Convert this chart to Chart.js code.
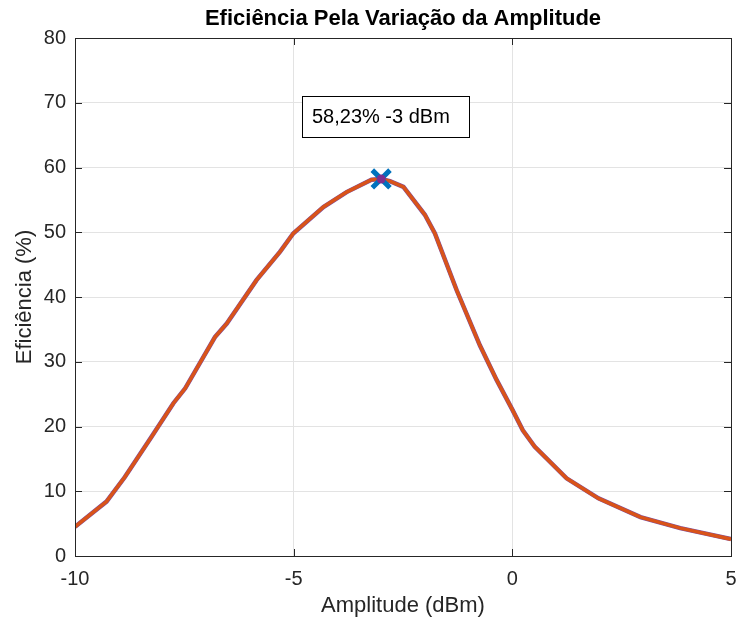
<!DOCTYPE html>
<html>
<head>
<meta charset="utf-8">
<script src="https://cdn.jsdelivr.net/npm/chart.js@4.4.0/dist/chart.umd.min.js"></script>
<style>
  html, body { margin: 0; padding: 0; background: #fff; }
  #wrap { width: 737px; height: 621px; }
</style>
</head>
<body>
<div id="wrap"><canvas id="effChart" width="737" height="621"></canvas></div>
<script>
// dados
const amplitude = [-10, -9.28, -8.86, -8.25, -7.75, -7.48, -6.8, -6.53, -5.85, -5.31, -5.01, -4.32, -3.79, -3.22, -3,
    -2.8, -2.49, -2, -1.77, -1.27, -0.74, -0.36, 0, 0.24, 0.51, 1.24, 1.97, 2.93, 3.84, 5];
const eficiencia = [4.5, 8.4, 12.2, 18.4, 23.6, 25.9, 33.8, 35.9, 42.6, 47.0, 49.8, 53.9, 56.2, 58.1, 58.23,
    57.9, 57.0, 52.7, 49.8, 41.0, 32.5, 27.2, 22.6, 19.4, 16.9, 12.0, 8.9, 6.0, 4.3, 2.6];
const picoX = [-3];
const picoY = [58.23];
const xTicks = [-10, -5, 0, 5];
const yTicks = [0, 10, 20, 30, 40, 50, 60, 70, 80];
const titulo = 'Eficiência Pela Variação da Amplitude';
const rotulo = '58,23% -3 dBm';

const FONT = "'Liberation Sans', Arial, Helvetica, sans-serif";
const AXC = '#262626';

const curva = amplitude.map((a, i) => ({x: a, y: eficiencia[i]}));
const pico = picoX.map((a, i) => ({x: a, y: picoY[i]}));

// título centrado no eixo, caixa, ticks para dentro e caixa de texto
const matlabBox = {
    id: 'matlabBox',
    afterDatasetsDraw(chart) {
        const {ctx, chartArea: a, scales: {x, y}} = chart;
        ctx.save();
        ctx.strokeStyle = AXC;
        ctx.lineWidth = 1;
        ctx.beginPath();
        xTicks.forEach(v => {
            const px = Math.round(x.getPixelForValue(v)) + 0.5;
            ctx.moveTo(px, a.bottom); ctx.lineTo(px, a.bottom - 7);
            ctx.moveTo(px, a.top); ctx.lineTo(px, a.top + 7);
        });
        yTicks.forEach(v => {
            const py = Math.round(y.getPixelForValue(v)) + 0.5;
            ctx.moveTo(a.left, py); ctx.lineTo(a.left + 7, py);
            ctx.moveTo(a.right, py); ctx.lineTo(a.right - 7, py);
        });
        ctx.stroke();
        ctx.strokeRect(Math.round(a.left) + 0.5, Math.round(a.top) + 0.5,
            Math.round(a.right - a.left), Math.round(a.bottom - a.top));

        // título
        ctx.fillStyle = '#000';
        ctx.font = 'bold 22px ' + FONT;
        ctx.textAlign = 'center';
        ctx.textBaseline = 'middle';
        ctx.fillText(titulo, (a.left + a.right) / 2, 19);

        // caixa de anotação
        const bx1 = x.getPixelForValue(-4.81), bx2 = x.getPixelForValue(-0.99);
        const by1 = y.getPixelForValue(71.1), by2 = y.getPixelForValue(64.8);
        ctx.fillStyle = '#fff';
        ctx.fillRect(bx1, by1, bx2 - bx1, by2 - by1);
        ctx.strokeStyle = '#000';
        ctx.strokeRect(Math.round(bx1) + 0.5, Math.round(by1) + 0.5, Math.round(bx2 - bx1), Math.round(by2 - by1));
        ctx.fillStyle = '#000';
        ctx.font = '20px ' + FONT;
        ctx.textBaseline = 'middle';
        ctx.textAlign = 'left';
        ctx.fillText(rotulo, bx1 + 10, (by1 + by2) / 2 + 1);
        ctx.restore();
    }
};

new Chart(document.getElementById('effChart'), {
    type: 'scatter',
    data: {
        datasets: [
            {
                data: pico,
                pointStyle: 'circle',
                pointRadius: 4.5,
                backgroundColor: '#7E2F8E',
                borderWidth: 0,
                order: 0
            },
            {
                data: pico,
                pointStyle: 'crossRot',
                pointRadius: 12.5,
                borderColor: '#0072BD',
                borderWidth: 5,
                order: 1
            },
            {
                data: curva,
                showLine: true,
                borderColor: '#D95319',
                borderWidth: 3.5,
                pointRadius: 0,
                tension: 0,
                order: 2
            },
            {
                data: curva,
                showLine: true,
                borderColor: '#7E4FA0',
                borderWidth: 4.5,
                pointRadius: 0,
                tension: 0,
                order: 3
            }
        ]
    },
    options: {
        responsive: false,
        animation: false,
        layout: { autoPadding: false, padding: { top: 38, right: 6 } },
        plugins: {
            legend: { display: false },
            tooltip: { enabled: false },
            title: { display: false }
        },
        scales: {
            x: {
                type: 'linear',
                min: -10, max: 5,
                afterFit: s => { s.height = 65; s.paddingLeft = 0; s.paddingRight = 0; },
                afterBuildTicks: s => { s.ticks = xTicks.map(v => ({value: v})); },
                ticks: { color: AXC, padding: 11, font: { family: FONT, size: 20 }, maxRotation: 0 },
                grid: { color: '#e3e3e3', drawTicks: false },
                border: { display: false },
                title: {
                    display: true, text: 'Amplitude (dBm)', color: AXC,
                    font: { family: FONT, size: 22, lineHeight: 1.2 },
                    padding: { top: 2, bottom: 1.8 }
                }
            },
            y: {
                min: 0, max: 80,
                afterFit: s => { s.width = 75; s.paddingTop = 0; s.paddingBottom = 0; },
                afterBuildTicks: s => { s.ticks = yTicks.map(v => ({value: v})); },
                ticks: { color: AXC, padding: 9, font: { family: FONT, size: 20 } },
                grid: { color: '#e3e3e3', drawTicks: false },
                border: { display: false },
                title: {
                    display: true, text: 'Eficiência (%)', color: AXC,
                    font: { family: FONT, size: 22, lineHeight: 1.2 },
                    padding: { top: 12, bottom: 0 }
                }
            }
        }
    },
    plugins: [matlabBox]
});
</script>
</body>
</html>
